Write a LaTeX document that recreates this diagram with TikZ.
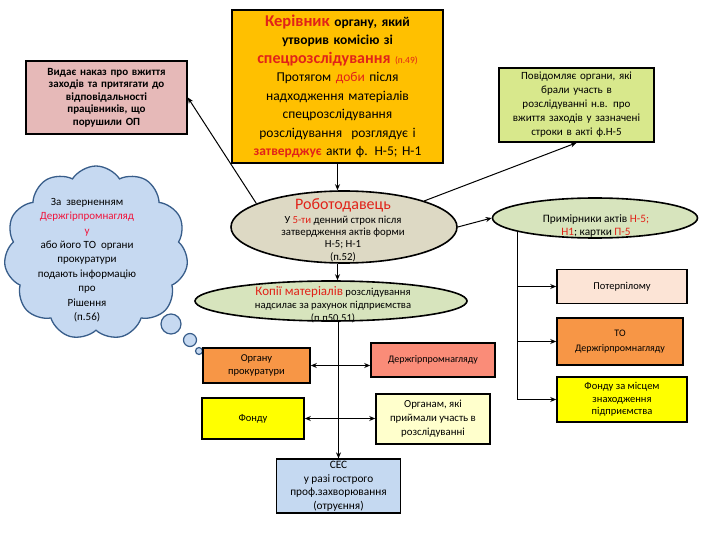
\documentclass[tikz,border=0pt]{standalone}
\usepackage{fontspec}
\setmainfont{Carlito}
\usetikzlibrary{shapes.geometric,shapes.symbols,arrows.meta}
\definecolor{korange}{RGB}{255,192,0}
\definecolor{kpink}{RGB}{230,185,184}
\definecolor{klime}{RGB}{216,232,140}
\definecolor{kcloud}{RGB}{198,217,241}
\definecolor{kcloudb}{RGB}{56,93,138}
\definecolor{kbeige}{RGB}{221,217,196}
\definecolor{kgreen}{RGB}{215,228,189}
\definecolor{kor2}{RGB}{247,150,70}
\definecolor{ksalmon}{RGB}{250,140,120}
\definecolor{kyellow}{RGB}{255,255,0}
\definecolor{kcream}{RGB}{255,255,204}
\definecolor{kblue}{RGB}{197,217,241}
\definecolor{kpeach}{RGB}{252,228,214}
\definecolor{kred}{RGB}{225,35,25}
\definecolor{kpinkred}{RGB}{240,20,60}
\begin{document}
\begin{tikzpicture}[x=1pt,y=-1pt,
  box/.style={draw=black, line width=1.6pt, align=center, inner sep=2pt, font=\fontsize{10}{13}\selectfont},
  oval/.style={ellipse, draw=black, line width=1.6pt, inner sep=0pt},
  txt/.style={align=center, inner sep=0pt},
  conn/.style={line width=1pt, -{Stealth[length=6pt,width=5pt]}},
  dconn/.style={line width=1pt, {Stealth[length=6pt,width=5pt]}-{Stealth[length=6pt,width=5pt]}},
  bubble/.style={circle, draw=kcloudb, fill=kcloud, line width=1.2pt, inner sep=0pt}
]
\fill[white] (0,0) rectangle (720,540);
\useasboundingbox (0,0) rectangle (720,540);

% top box
\node[box, fill=korange, minimum width=209pt, minimum height=153pt, text width=207pt,
      font=\fontsize{13.5}{18.5}\selectfont] (top) at (337.5,86.5)
 {{\fontsize{16.5}{18.5}\selectfont\bfseries\textcolor{kred}{Керівник}} {\bfseries органу, який}\\
  {\bfseries утворив комісію зі}\\
  {\fontsize{16}{18.5}\selectfont\bfseries\textcolor{kred}{спецрозслідування}} {\fontsize{9.5}{11}\selectfont\textcolor{kred}{(п.49)}}\\
  Протягом \textcolor{kred}{доби} після\\
  надходження матеріалів\\
  спецрозслідування\\
  розслідування\ \ розглядує і\\
  {\bfseries\textcolor{kred}{затверджує}} акти ф. Н-5; Н-1};

% pink box
\node[box, fill=kpink, minimum width=159pt, minimum height=73pt, text width=157pt,
      font=\fontsize{11}{12.5}\selectfont\bfseries] (pink) at (106.5,97.5)
 {Видає наказ про вжиття\\ заходів та притягати до\\ відповідальності\\ працівників, що\\ порушили ОП};

% green box
\node[box, fill=klime, minimum width=153pt, minimum height=74pt, text width=151pt,
      font=\fontsize{11}{14}\selectfont] (green) at (576.5,105)
 {Повідомляє органи, які\\ брали участь в\\ розслідуванні н.в. про\\ вжиття заходів у зазначені\\ строки в акті ф.Н-5};

% cloud
\node[cloud, cloud puffs=11, cloud puff arc=115, aspect=1.05, draw=kcloudb, fill=kcloud,
      line width=1.3pt, minimum width=184pt, minimum height=174pt, inner sep=0pt] (cloud) at (96,253) {};
\node[bubble, minimum size=20pt] (bub1) at (171,324) {};
\node[bubble, minimum size=13pt] (bub2) at (190,340) {};
\node[bubble, minimum size=7pt] (bub3) at (199,351) {};
\node[txt, font=\fontsize{11}{14.4}\selectfont] (cloudtxt) at (87,260)
 {За\ \ зверненням\\ \textcolor{kpinkred}{Держгірпромнагляд}\\ \textcolor{kpinkred}{у}\\ або його ТО\ \ органи\\ прокуратури\\ подають інформацію\\ про\\ Рішення\\ (п.56)};

% employer ellipse
\node[oval, fill=kbeige, minimum width=226pt, minimum height=72pt] (rob) at (344,227) {};
\node[txt, font=\fontsize{10.8}{12.2}\selectfont] (robtxt) at (343,230)
 {{\fontsize{16}{16}\selectfont\textcolor{kred}{Роботодавець}}\\[2pt]
  У \textcolor{kred}{5-ти} денний строк після\\ затвердження актів форми\\ Н-5; Н-1\\ (п.52)};

% copies ellipse
\node[oval, fill=kgreen, minimum width=272pt, minimum height=40pt] (kop) at (331,301) {};
\node[txt, font=\fontsize{10.6}{13}\selectfont] (koptxt) at (333,305)
 {{\fontsize{13}{13}\selectfont\textcolor{kred}{Копії матеріалів}} розслідування\\
  надсилає за рахунок підприємства\\ (п.п50,51)};

% copies of acts ellipse
\node[oval, fill=kgreen, minimum width=205pt, minimum height=40pt] (prim) at (595,218) {};
\node[txt, font=\fontsize{11.3}{13.5}\selectfont] (primtxt) at (596,226)
 {Примірники актів \textcolor{kred}{Н-5;}\\ \textcolor{kred}{Н1}; картки \textcolor{kred}{П-5}};

% bottom boxes
\node[box, fill=kor2, minimum width=107pt, minimum height=35pt, font=\fontsize{10.5}{13}\selectfont] (prok) at (256.5,365.5) {Органу\\ прокуратури};
\node[box, fill=ksalmon, minimum width=124pt, minimum height=34pt] (derzh) at (433,360) {Держгірпромнагляду};
\node[box, fill=kyellow, minimum width=102pt, minimum height=41pt, font=\fontsize{10.5}{13}\selectfont] (fond) at (253,418.5) {Фонду};
\node[box, fill=kcream, minimum width=114pt, minimum height=50pt, font=\fontsize{10.8}{14}\selectfont] (organam) at (433,419) {Органам, які\\ приймали участь в\\ розслідуванні};
\node[box, fill=kblue, minimum width=124pt, minimum height=52pt, font=\fontsize{11.3}{13.5}\selectfont] (ces) at (338.5,486) {СЕС\\ у разі гострого\\ проф.захворювання\\ (отруєння)};

% right boxes
\node[box, fill=kpeach, minimum width=130pt, minimum height=34pt, font=\fontsize{10.5}{12}\selectfont] (pot) at (622,286.5) {Потерпілому};
\node[box, fill=kor2, minimum width=126pt, minimum height=47pt, font=\fontsize{10}{15}\selectfont] (tobox) at (620,341.5) {ТО\\ Держгірпромнагляду};
\node[box, fill=kyellow, minimum width=130pt, minimum height=45pt, font=\fontsize{10.5}{12.5}\selectfont] (fzm) at (622,399.5) {Фонду за місцем\\ знаходження\\ підприємства};

% connectors
\draw[conn] (top.south) -- (top.south |- rob.north);
\draw[conn] (rob.165) -- (pink.east);
\draw[conn] (rob.18) -- (green.south);
\draw[conn] (rob.east) -- (prim.west);
\draw[conn] (top.south |- rob.south) -- (top.south |- kop.north);
\draw[conn] (ces.north |- kop.south) -- (ces.north);
\draw[dconn] (prok.east) -- (prok.east -| derzh.west);
\draw[dconn, line width=1.8pt] (fond.east) -- (fond.east -| organam.west);

\coordinate (trunk) at (517.5,231);
\draw[line width=1.2pt] (trunk) -- (trunk |- fzm.west);
\draw[conn, line width=1.4pt] (trunk |- fzm.west) -- (fzm.west);
\draw[conn, line width=1.4pt] (trunk |- tobox.west) -- (tobox.west);
\draw[conn, line width=1.4pt] (trunk |- pot.west) -- (pot.west);
\end{tikzpicture}
\end{document}
